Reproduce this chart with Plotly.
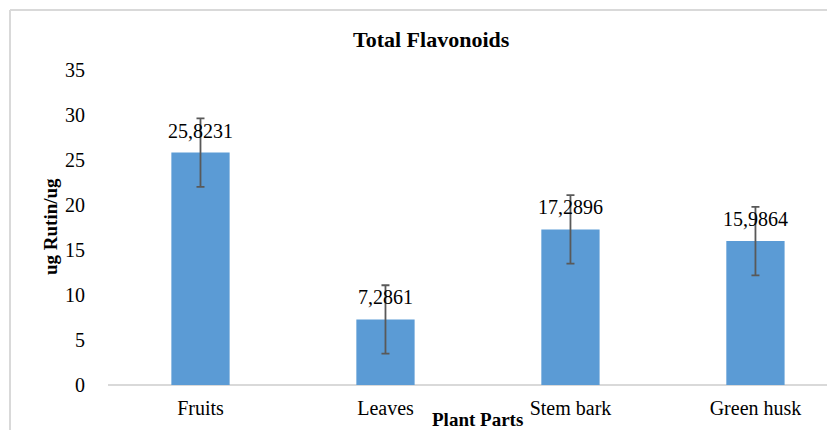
import plotly.graph_objects as go

categories = ["Fruits", "Leaves", "Stem bark", "Green husk"]
values = [25.8231, 7.2861, 17.2896, 15.9864]
errors = [3.8, 3.8, 3.8, 3.8]
labels = ["25,8231", "7,2861", "17,2896", "15,9864"]
y_ticks = [0, 5, 10, 15, 20, 25, 30, 35]

FONT = "Liberation Serif, Times New Roman, serif"

OFF = 8  # page body margin shifts the figure by 8px
L, T, PW, PH = 108 - OFF, 70 - OFF, 727, 315  # plot area left/top and size in px


def px(xs):
    return (xs - OFF - L) / PW


def py(ys):
    return 1 - (ys - OFF - T) / PH


fig = go.Figure()
fig.add_trace(go.Bar(
    x=categories, y=values, width=0.315,
    marker=dict(color="#5B9BD5", line=dict(width=0)),
    error_y=dict(type="data", array=errors, visible=True,
                 color="#595959", thickness=1.8, width=4),
    hoverinfo="skip",
))

for c, v, t in zip(categories, values, labels):
    fig.add_annotation(x=c, y=v, text=t, showarrow=False, yshift=22,
                       font=dict(family=FONT, size=20, color="#000"))

fig.update_layout(
    width=835, height=430,
    margin=dict(l=L, r=835 - L - PW, t=T, b=430 - T - PH, autoexpand=False),
    paper_bgcolor="white", plot_bgcolor="white",
    showlegend=False,
    font=dict(family=FONT, size=20, color="#000"),
    xaxis=dict(range=[-0.5, 3.43], showgrid=False, zeroline=False,
               showline=False, ticks="outside", ticklen=5, tickcolor="rgba(0,0,0,0)",
               tickfont=dict(family=FONT, size=20),
               fixedrange=True),
    yaxis=dict(range=[0, 35], tickvals=y_ticks, showgrid=False,
               zeroline=True, zerolinecolor="#d9d9d9", zerolinewidth=1.5,
               showline=False, ticks="outside", ticklen=18, tickcolor="rgba(0,0,0,0)",
               tickfont=dict(family=FONT, size=20)),
)

# chart title, axis titles
fig.add_annotation(xref="paper", yref="paper", x=px(431), y=py(40),
                   text="<b>Total Flavonoids</b>", showarrow=False,
                   font=dict(family=FONT, size=22), xanchor="center", yanchor="middle")
fig.add_annotation(xref="paper", yref="paper", x=px(478), y=py(419),
                   text="<b>Plant Parts</b>", showarrow=False,
                   font=dict(family=FONT, size=19), xanchor="center", yanchor="middle")
fig.add_annotation(xref="paper", yref="paper", x=px(50), y=py(227),
                   text="<b>ug Rutin/ug</b>", showarrow=False, textangle=-90,
                   font=dict(family=FONT, size=19), xanchor="center", yanchor="middle")

# frame border (left and top)
fig.add_shape(type="line", xref="paper", yref="paper", x0=px(10), x1=px(10), y0=py(440), y1=py(10),
              line=dict(color="#d9d9d9", width=2))
fig.add_shape(type="line", xref="paper", yref="paper", x0=px(10), x1=px(845), y0=py(10), y1=py(10),
              line=dict(color="#d9d9d9", width=2))

fig.write_html("out.html")
